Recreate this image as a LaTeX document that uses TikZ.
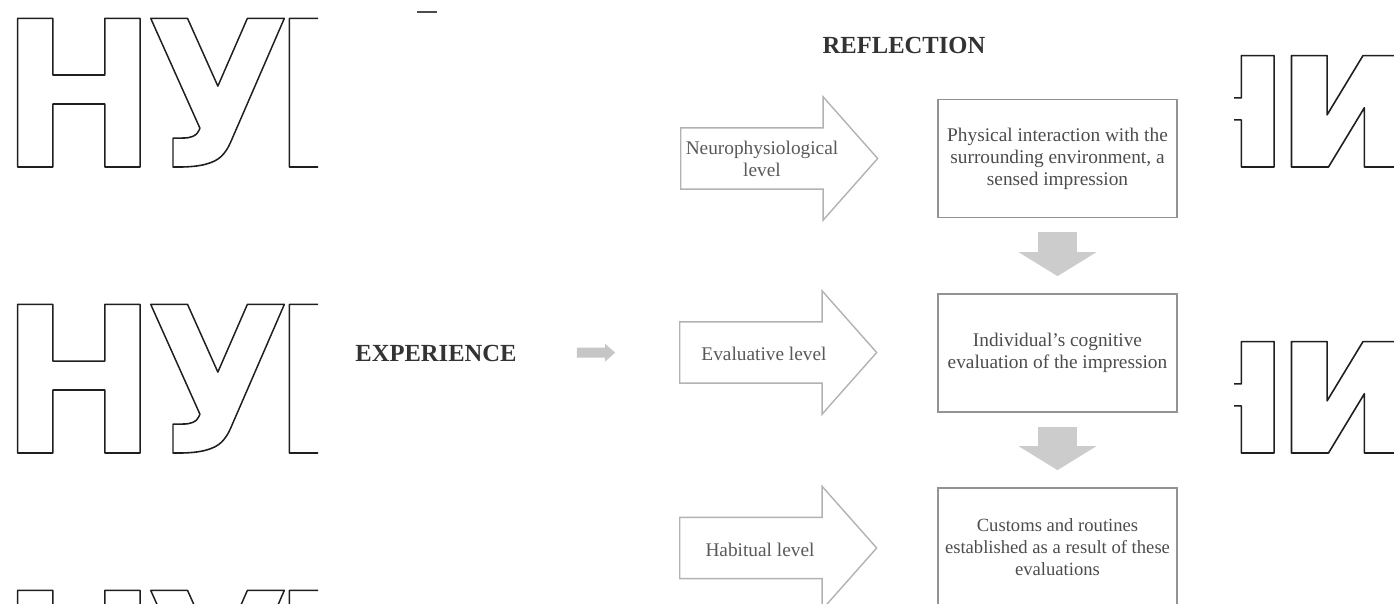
\documentclass[tikz,border=0pt]{standalone}
\usepackage{fontspec}
\usepackage{graphicx}
\setmainfont{Liberation Serif}
\newfontfamily\wmfont{DejaVu Sans}
\usetikzlibrary{shapes.arrows, arrows.meta, positioning}
\tikzset{
  % level arrows on the left
  levelarr/.style={single arrow, draw=gray!60, line width=0.8pt,
    minimum height=3.94cm, inner xsep=0pt, inner ysep=0.6cm,
    single arrow head extend=0.62cm, single arrow tip angle=97, anchor=tail},
  lvltxt/.style={align=center, text=black!65, inner sep=0pt,
    font=\fontsize{11}{12.5}\selectfont},
  stagebox/.style={rectangle, draw=gray!85, line width=1pt,
    minimum width=4.78cm, minimum height=2.36cm, inner xsep=2pt, align=center,
    text=black!70, font=\fontsize{11}{12.5}\selectfont},
  % grey block arrows between the boxes
  flowarr/.style={line width=0.78cm, draw=gray!40,
    shorten <=0.28cm, shorten >=0.34cm,
    -{Triangle[width=1.56cm, length=0.48cm, line width=0pt]}},
  smallarr/.style={line width=0.2cm, draw=gray!45,
    shorten <=1.2cm, shorten >=1.28cm,
    -{Triangle[width=0.36cm, length=0.2cm, line width=0pt]}},
  hdr/.style={inner sep=0pt, text=black!80,
    font=\fontsize{14}{16}\selectfont\bfseries},
  wmark/.style={inner sep=0pt, anchor=base west,
    font=\wmfont\fontsize{116}{116}\selectfont\bfseries},
}
\newcommand{\outl}[2][0.92]{\scalebox{#1}[1]{\special{pdf:literal direct 1 Tr 1 j 0.9 w 0.12 0.12 0.12 RG}#2\special{pdf:literal direct 0 Tr}}}

\begin{document}
\begin{tikzpicture}[x=0.02cm, y=0.02cm]
  \useasboundingbox (0,0) rectangle (1394,603);

  % watermark, cut at both sides
  \begin{scope}
    \clip (0,0) rectangle (318,603);
    \foreach \yb [count=\r] in {436,150,-136} {
      \node[wmark] (wmH\r) at (0,\yb) {\outl{Н}};
      \node[wmark] (wmU\r) at (145,\yb) {\outl{У}};
      \node[wmark] (wmB\r) at (271,\yb) {\rlap{\outl{Б}}};
    }
  \end{scope}
  \begin{scope}
    \clip (1234,0) rectangle (1394,603);
    \foreach \yb [count=\r] in {436,150} {
      \node[wmark] (wmn\r) at (1160,\yb) {\outl{н}};
      \node[wmark] (wmi\r) at (1274,\yb) {\outl[1]{и}};
    }
  \end{scope}
  \draw[black!70, line width=0.8pt] (417,591) -- (437,591);

  \node[hdr] (refl) at (904,558) {REFLECTION};
  \node[hdr] (exp) at (436,250) {EXPERIENCE};

  \node[levelarr] (a1) at (680,444.5) {};
  \node[levelarr] (a2) at (679,250.5) {};
  \node[levelarr] (a3) at (679,55) {};
  \node[lvltxt] (l1) at (762,444) {Neurophysiological\\level};
  \node[lvltxt] (l2) at (764,249) {Evaluative level};
  \node[lvltxt] (l3) at (760,53) {Habitual level};

  \node[stagebox] (b1) at (1057.5,444.5) {Physical interaction with the\\surrounding environment, a\\sensed impression};
  \node[stagebox] (b2) at (1057.5,250) {Individual's cognitive\\evaluation of the impression};
  \node[stagebox, font=\fontsize{10.6}{12.5}\selectfont] (b3) at (1057.5,56) {Customs and routines\\established as a result of these\\evaluations};

  \draw[flowarr] (b1) -- (b2);
  \draw[flowarr] (b2) -- (b3);
  \draw[smallarr] (exp) -- (a2.tail);
\end{tikzpicture}
\end{document}
